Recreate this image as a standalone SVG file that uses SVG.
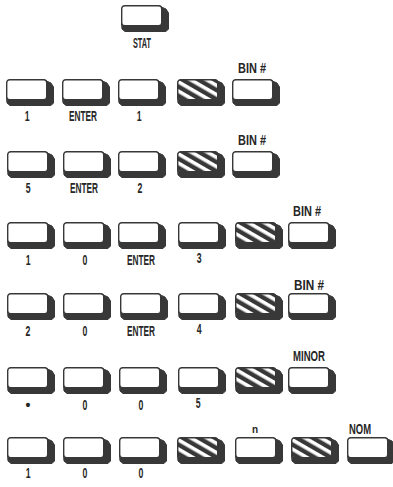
<svg xmlns="http://www.w3.org/2000/svg" xmlns:xlink="http://www.w3.org/1999/xlink" width="393" height="487" viewBox="0 0 393 487">
<style>
  .lbl{font-family:"Liberation Sans Narrow","Liberation Sans",sans-serif;font-weight:bold;font-size:14px;fill:#262626;text-anchor:middle}
  .n{transform-box:fill-box;transform-origin:center;transform:scaleX(.62)}
  .sh{fill:#383838;stroke:#383838;stroke-width:1;stroke-linejoin:round}
  .face{fill:#fff;stroke:#383838;stroke-width:1.4}
  .hface{fill:url(#hatch);stroke:#383838;stroke-width:1.4}
</style>
<defs>
  <pattern id="hatch" patternUnits="userSpaceOnUse" width="8" height="8" patternTransform="rotate(30)">
    <rect width="8" height="8" fill="#383838"/>
    <rect y="0" width="8" height="3.6" fill="#fff"/>
  </pattern>
  <g id="key">
    <polygon class="sh" points="37,0.5 45,4 47.5,8 47.5,24 45,26.5 4,26.5 1,24 0.5,18"/>
    <rect class="face" x="0.7" y="0.7" width="40" height="20" rx="3"/>
  </g>
  <g id="hkey">
    <polygon class="sh" points="37,0.5 45,4 47.5,8 47.5,24 45,26.5 4,26.5 1,24 0.5,18"/>
    <rect class="hface" x="0.7" y="0.7" width="40" height="20" rx="3"/>
  </g>
</defs>

<g id="stat">
  <use xlink:href="#key" x="121" y="5"/>
  <text class="lbl" x="142" y="48" textLength="18" lengthAdjust="spacingAndGlyphs">STAT</text>
</g>

<g id="row1">
  <use xlink:href="#key" x="6" y="79"/>
  <use xlink:href="#key" x="62" y="79"/>
  <use xlink:href="#key" x="118" y="79"/>
  <use xlink:href="#hkey" x="177" y="79"/>
  <use xlink:href="#key" x="232" y="79"/>
  <text class="lbl n" x="27" y="121">1</text>
  <text class="lbl" x="83" y="121" textLength="28" lengthAdjust="spacingAndGlyphs">ENTER</text>
  <text class="lbl n" x="139" y="121">1</text>
  <text class="lbl" x="252" y="73" textLength="28" lengthAdjust="spacingAndGlyphs">BIN #</text>
</g>

<g id="row2">
  <use xlink:href="#key" x="7" y="151"/>
  <use xlink:href="#key" x="63" y="151"/>
  <use xlink:href="#key" x="118" y="151"/>
  <use xlink:href="#hkey" x="177" y="151"/>
  <use xlink:href="#key" x="232" y="151"/>
  <text class="lbl n" x="28" y="193">5</text>
  <text class="lbl" x="84" y="193" textLength="28" lengthAdjust="spacingAndGlyphs">ENTER</text>
  <text class="lbl n" x="140" y="193">2</text>
  <text class="lbl" x="252" y="145" textLength="28" lengthAdjust="spacingAndGlyphs">BIN #</text>
</g>

<g id="row3">
  <use xlink:href="#key" x="7" y="222"/>
  <use xlink:href="#key" x="63" y="222"/>
  <use xlink:href="#key" x="118" y="222"/>
  <use xlink:href="#key" x="178" y="222"/>
  <use xlink:href="#hkey" x="235" y="222"/>
  <use xlink:href="#key" x="288" y="222"/>
  <text class="lbl n" x="28" y="265">1</text>
  <text class="lbl n" x="85" y="265">0</text>
  <text class="lbl" x="141" y="265" textLength="28" lengthAdjust="spacingAndGlyphs">ENTER</text>
  <text class="lbl n" x="199" y="263">3</text>
  <text class="lbl" x="307" y="216" textLength="28" lengthAdjust="spacingAndGlyphs">BIN #</text>
</g>

<g id="row4">
  <use xlink:href="#key" x="7" y="293"/>
  <use xlink:href="#key" x="63" y="293"/>
  <use xlink:href="#key" x="120" y="293"/>
  <use xlink:href="#key" x="178" y="293"/>
  <use xlink:href="#hkey" x="235" y="293"/>
  <use xlink:href="#key" x="288" y="293"/>
  <text class="lbl n" x="28" y="336">2</text>
  <text class="lbl n" x="85" y="336">0</text>
  <text class="lbl" x="141" y="336" textLength="28" lengthAdjust="spacingAndGlyphs">ENTER</text>
  <text class="lbl n" x="199" y="334">4</text>
  <text class="lbl" x="309" y="290" textLength="30" lengthAdjust="spacingAndGlyphs">BIN #</text>
</g>

<g id="row5">
  <use xlink:href="#key" x="7" y="367"/>
  <use xlink:href="#key" x="63" y="367"/>
  <use xlink:href="#key" x="119" y="367"/>
  <use xlink:href="#key" x="178" y="367"/>
  <use xlink:href="#hkey" x="235" y="367"/>
  <use xlink:href="#key" x="288" y="367"/>
  <text class="lbl" x="28" y="410">•</text>
  <text class="lbl n" x="85" y="410">0</text>
  <text class="lbl n" x="141" y="410">0</text>
  <text class="lbl n" x="198" y="408">5</text>
  <text class="lbl" x="309" y="361" textLength="32" lengthAdjust="spacingAndGlyphs">MINOR</text>
</g>

<g id="row6">
  <use xlink:href="#key" x="7" y="437"/>
  <use xlink:href="#key" x="63" y="437"/>
  <use xlink:href="#key" x="119" y="437"/>
  <use xlink:href="#hkey" x="177" y="437"/>
  <use xlink:href="#key" x="235" y="437"/>
  <use xlink:href="#hkey" x="291" y="437"/>
  <use xlink:href="#key" x="347" y="437"/>
  <text class="lbl n" x="28" y="478">1</text>
  <text class="lbl n" x="85" y="478">0</text>
  <text class="lbl n" x="141" y="478">0</text>
  <text class="lbl" x="255" y="433" style="font-size:10px">n</text>
  <text class="lbl" x="360" y="434" textLength="22" lengthAdjust="spacingAndGlyphs">NOM</text>
</g>
</svg>
